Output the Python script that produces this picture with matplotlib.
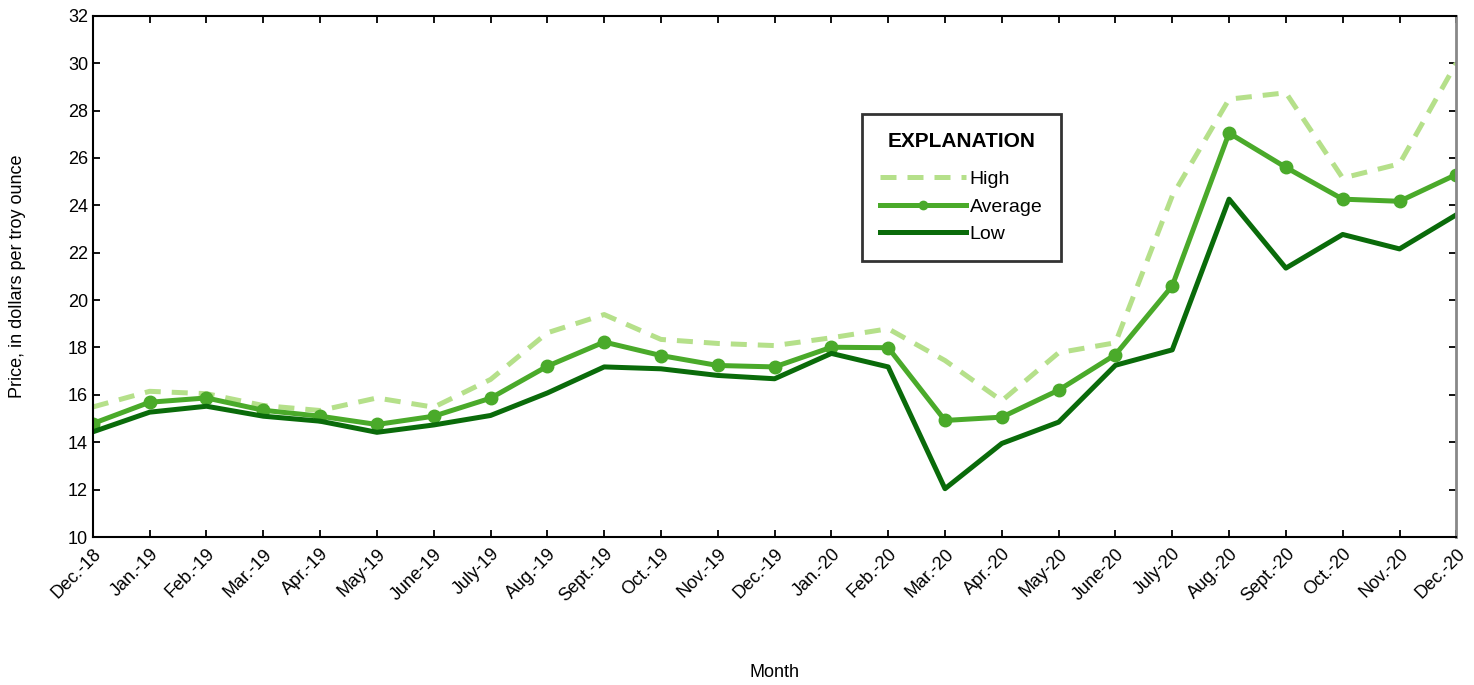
import matplotlib
matplotlib.use("Agg")
import matplotlib.pyplot as plt
from matplotlib import font_manager

months = ["Dec.-18", "Jan.-19", "Feb.-19", "Mar.-19", "Apr.-19", "May-19", "June-19",
          "July-19", "Aug.-19", "Sept.-19", "Oct.-19", "Nov.-19", "Dec.-19",
          "Jan.-20", "Feb.-20", "Mar.-20", "Apr.-20", "May-20", "June-20",
          "July-20", "Aug.-20", "Sept.-20", "Oct.-20", "Nov.-20", "Dec.-20"]

high = [15.49, 16.15, 16.05, 15.55, 15.34, 15.87, 15.48, 16.65, 18.62, 19.39,
        18.34, 18.17, 18.08, 18.41, 18.79, 17.45, 15.75, 17.78, 18.2, 24.4,
        28.48, 28.75, 25.15, 25.75, 30.0]
average = [14.79, 15.69, 15.87, 15.35, 15.1, 14.75, 15.1, 15.86, 17.21, 18.23,
           17.66, 17.24, 17.18, 18.01, 17.99, 14.92, 15.06, 16.2, 17.7, 20.6,
           27.05, 25.6, 24.26, 24.17, 25.3]
low = [14.44, 15.27, 15.52, 15.1, 14.89, 14.42, 14.73, 15.13, 16.08, 17.18,
       17.1, 16.82, 16.68, 17.75, 17.18, 12.04, 13.95, 14.85, 17.25, 17.9,
       24.26, 21.35, 22.77, 22.16, 23.6]

yticks = list(range(10, 33, 2))

# narrow font if it is there
names = {f.name for f in font_manager.fontManager.ttflist}
family = "Liberation Sans Narrow" if "Liberation Sans Narrow" in names else "Liberation Sans"
plt.rcParams["font.family"] = [family, "DejaVu Sans"]

fig = plt.figure(figsize=(14.74, 6.85), dpi=100)
ax = fig.add_axes([0.063, 0.216, 0.925, 0.761])

x = list(range(len(months)))
ax.plot(x, high, color="#b5e08a", lw=3.6, ls=(0, (3.2, 2.2)), label="High")
ax.plot(x, average, color="#4aaa2a", lw=3.6, marker="o", ms=9, label="Average")
ax.plot(x, low, color="#0a6b0a", lw=3.6, label="Low")

ax.set_xlim(0, len(months) - 1)
ax.set_ylim(10, 32)
ax.set_yticks(yticks)
ax.set_xticks(x)
ax.set_xticklabels(months, rotation=45, ha="right", rotation_mode="anchor")
ax.tick_params(direction="in", top=True, right=True, length=5, width=1.3,
               labelsize=13)
ax.tick_params(axis="x", pad=6)
for side in ["left", "bottom", "top"]:
    ax.spines[side].set_linewidth(1.5)
ax.spines["right"].set_color("#888888")
ax.spines["right"].set_linewidth(2)

ax.set_ylabel("Price, in dollars per troy ounce", fontsize=13, labelpad=30)
ax.set_xlabel("Month", fontsize=13, labelpad=42)

leg = ax.legend(title="EXPLANATION", loc="upper left", bbox_to_anchor=(0.564, 0.812),
                borderaxespad=0, fontsize=14, frameon=True, fancybox=False,
                handlelength=4.4, handletextpad=0.2, borderpad=0.95,
                labelspacing=0.5, edgecolor="black")
leg.get_title().set_fontweight("bold")
leg.get_title().set_fontsize(15)
leg.get_title().set_family(["Liberation Sans", "DejaVu Sans"])
leg._legend_box.sep = 14
leg.get_frame().set_linewidth(2)
for h in leg.legend_handles:
    h.set_markersize(6)

fig.savefig("out.png", dpi=100)
